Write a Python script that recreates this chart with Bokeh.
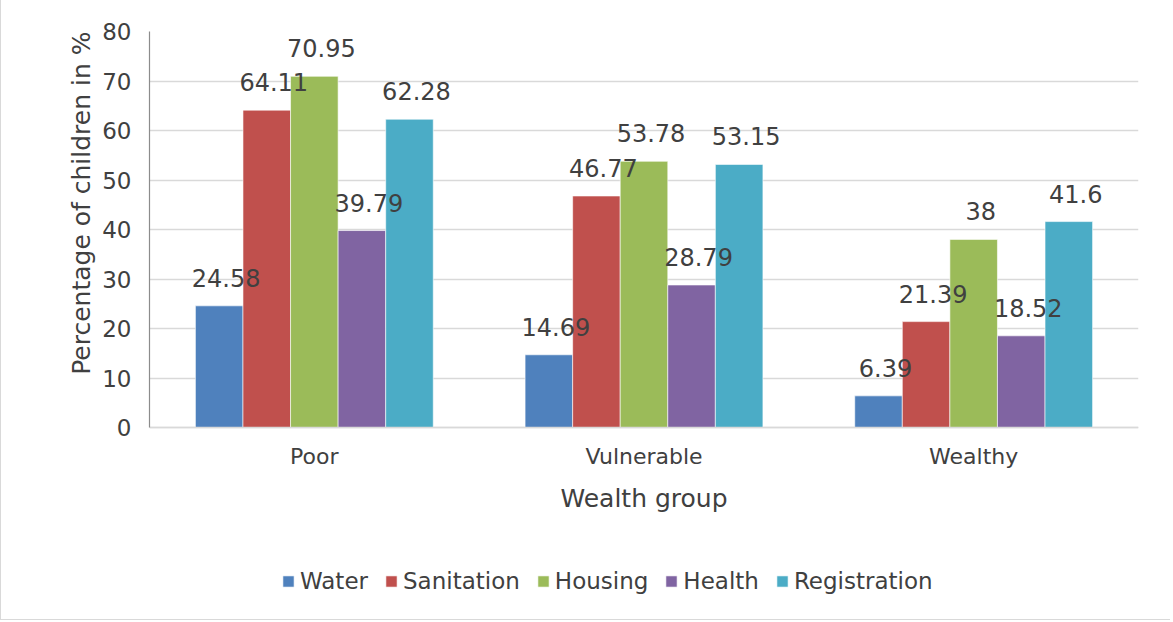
from bokeh.plotting import figure
from bokeh.models import ColumnDataSource, LabelSet, Range1d, FactorRange, Title
from bokeh.core.properties import value
from bokeh.transform import dodge
from bokeh.embed import file_html
from bokeh.resources import INLINE

groups = ["Poor", "Vulnerable", "Wealthy"]
series = ["Water", "Sanitation", "Housing", "Health", "Registration"]
water = [24.58, 14.69, 6.39]
sanitation = [64.11, 46.77, 21.39]
housing = [70.95, 53.78, 38]
health = [39.79, 28.79, 18.52]
registration = [62.28, 53.15, 41.6]
colors = ["#4F81BD", "#C0504D", "#9BBB59", "#8064A2", "#4BACC6"]
y_ticks = [0, 10, 20, 30, 40, 50, 60, 70, 80]
y_title = "Percentage of children in %"
x_title = "Wealth group"

values = [water, sanitation, housing, health, registration]
data = {"group": groups}
for name, vals in zip(series, values):
    data[name] = vals
    data[name + "_lbl"] = [f"{v:g}" for v in vals]
source = ColumnDataSource(data)

FONT = "DejaVu Sans"
TXT = "#404040"

# frame: top at 31px, value 0 at 427px, frame bottom at 620px
y_top = 80
y_bottom = -y_top * (620 - 427) / (427 - 31)

p = figure(x_range=FactorRange(*groups), y_range=Range1d(y_bottom, y_top),
           width=1170, height=620, output_backend="svg", toolbar_location=None,
           min_border_left=148, min_border_top=31, min_border_right=33, min_border_bottom=0)
p.x_range.range_padding = 0
p.outline_line_color = None

w = 0.1443
for i, (name, col) in enumerate(zip(series, colors)):
    off = (i - 2) * w
    p.vbar(x=dodge("group", off, range=p.x_range), top=name, bottom=0, width=w, source=source,
           fill_color=col, line_color="white", line_width=0.6, legend_label=name)
    labels = LabelSet(x=dodge("group", off, range=p.x_range), y=name, text=name + "_lbl",
                      source=source, text_align="center", text_baseline="alphabetic",
                      x_offset=7, y_offset=19, text_font=value(FONT), text_font_size="24px",
                      text_color=TXT)
    p.add_layout(labels)

# axes
p.yaxis.ticker = y_ticks
p.yaxis.bounds = (0, 80)
p.xaxis.fixed_location = 0
p.xaxis.axis_label = x_title
for ax in (p.xaxis[0], p.yaxis[0]):
    ax.major_tick_in = 0
    ax.major_tick_out = 0
    ax.minor_tick_in = 0
    ax.minor_tick_out = 0
    ax.major_label_text_font = FONT
    ax.major_label_text_color = TXT
    ax.axis_label_text_font = FONT
    ax.axis_label_text_color = TXT
    ax.axis_label_text_font_style = "normal"
    ax.axis_label_text_font_size = "25px"
p.yaxis.major_label_text_font_size = "23px"
p.xaxis.major_label_text_font_size = "22px"
p.yaxis.major_label_standoff = 18
p.xaxis.major_label_standoff = 16
p.xaxis.axis_label_standoff = 12
p.yaxis.axis_line_color = "#8c8c8c"
p.yaxis.axis_line_width = 1.2
p.xaxis.axis_line_color = "#d9d9d9"
p.xaxis.axis_line_width = 1.5

# y-axis title, aligned to the top of the value span
p.add_layout(Title(text=y_title, align="right", standoff=8,
                   text_font=FONT, text_font_size="25px", text_font_style="normal",
                   text_color=TXT), "left")

p.xgrid.grid_line_color = None
p.ygrid.grid_line_color = "#d9d9d9"
p.ygrid.grid_line_width = 1.5

# legend
lg = p.legend[0]
lg.orientation = "horizontal"
lg.location = (132, 26)
lg.border_line_color = None
lg.background_fill_alpha = 0
lg.padding = 0
lg.margin = 0
lg.spacing = 16
lg.label_standoff = 5
lg.glyph_width = 14
lg.glyph_height = 14
lg.label_text_font = FONT
lg.label_text_font_size = "23px"
lg.label_text_color = TXT

p.styles = {"border-left": "1px solid #d9d9d9", "border-bottom": "1px solid #d9d9d9"}

open("out.html", "w").write(file_html(p, INLINE))
